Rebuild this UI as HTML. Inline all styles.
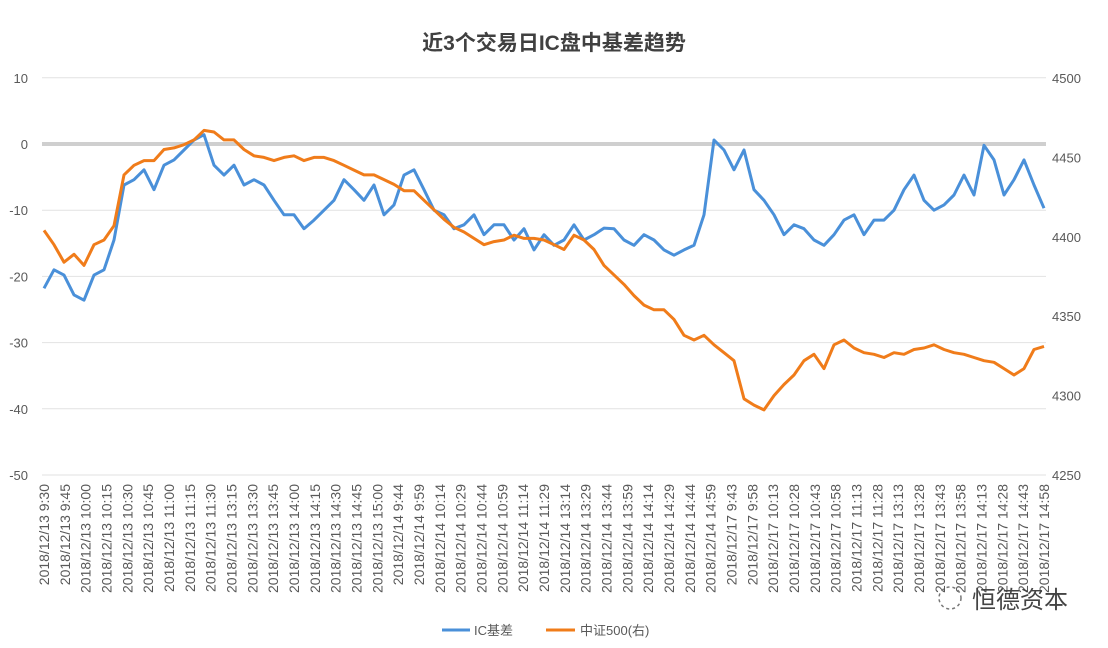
<!DOCTYPE html>
<html><head><meta charset="utf-8"><style>
body{margin:0;background:#fff;}
svg{display:block;font-family:"Liberation Sans","Noto Sans CJK SC",sans-serif;}
</style></head><body>
<svg id="chart" width="1108" height="648" viewBox="0 0 1108 648">
<text x="554" y="50" text-anchor="middle" font-size="21" font-weight="bold" fill="#404040">近3个交易日IC盘中基差趋势</text>
<g id="grid"></g><g id="yl"></g><g id="yr"></g><g id="xl"></g><g id="series"></g>
<g>
<line x1="442" y1="630" x2="470" y2="630" stroke="#4a90d9" stroke-width="3"/>
<text x="474" y="635" font-size="13" fill="#595959">IC基差</text>
<line x1="546" y1="630" x2="575" y2="630" stroke="#f07c1a" stroke-width="3"/>
<text x="580" y="635" font-size="13" fill="#595959">中证500(右)</text>
</g>
<circle cx="950" cy="598" r="11" fill="none" stroke="#777" stroke-width="1.5" stroke-dasharray="3 3"/>
<text x="972" y="608" font-size="24" fill="#444">恒德资本</text>
</svg>
<script>
const xLabels=["2018/12/13 9:30","2018/12/13 9:45","2018/12/13 10:00","2018/12/13 10:15","2018/12/13 10:30","2018/12/13 10:45","2018/12/13 11:00","2018/12/13 11:15","2018/12/13 11:30","2018/12/13 13:15","2018/12/13 13:30","2018/12/13 13:45","2018/12/13 14:00","2018/12/13 14:15","2018/12/13 14:30","2018/12/13 14:45","2018/12/13 15:00","2018/12/14 9:44","2018/12/14 9:59","2018/12/14 10:14","2018/12/14 10:29","2018/12/14 10:44","2018/12/14 10:59","2018/12/14 11:14","2018/12/14 11:29","2018/12/14 13:14","2018/12/14 13:29","2018/12/14 13:44","2018/12/14 13:59","2018/12/14 14:14","2018/12/14 14:29","2018/12/14 14:44","2018/12/14 14:59","2018/12/17 9:43","2018/12/17 9:58","2018/12/17 10:13","2018/12/17 10:28","2018/12/17 10:43","2018/12/17 10:58","2018/12/17 11:13","2018/12/17 11:28","2018/12/17 13:13","2018/12/17 13:28","2018/12/17 13:43","2018/12/17 13:58","2018/12/17 14:13","2018/12/17 14:28","2018/12/17 14:43","2018/12/17 14:58"];
const leftTicks=[10,0,-10,-20,-30,-40,-50];
const rightTicks=[4500,4450,4400,4350,4300,4250];
const icBasis=[-21.8,-19.0,-19.8,-22.8,-23.6,-19.8,-19.0,-14.5,-6.2,-5.4,-3.9,-6.9,-3.2,-2.4,-0.9,0.6,1.4,-3.2,-4.7,-3.2,-6.2,-5.4,-6.2,-8.5,-10.7,-10.7,-12.8,-11.5,-10.0,-8.5,-5.4,-6.9,-8.5,-6.2,-10.7,-9.2,-4.7,-3.9,-6.9,-10.0,-10.7,-12.8,-12.2,-10.7,-13.7,-12.2,-12.2,-14.5,-12.8,-16.0,-13.7,-15.3,-14.5,-12.2,-14.5,-13.7,-12.7,-12.8,-14.5,-15.3,-13.7,-14.5,-16.0,-16.8,-16.0,-15.3,-10.7,0.6,-0.9,-3.9,-0.9,-6.9,-8.5,-10.7,-13.7,-12.2,-12.8,-14.5,-15.3,-13.7,-11.5,-10.7,-13.7,-11.5,-11.5,-10.0,-6.9,-4.7,-8.5,-10.0,-9.2,-7.7,-4.7,-7.7,-0.2,-2.4,-7.7,-5.4,-2.4,-6.2,-9.7];
const csi500=[4404,4395,4384,4389,4382,4395,4398,4407,4439,4445,4448,4448,4455,4456,4458,4461,4467,4466,4461,4461,4455,4451,4450,4448,4450,4451,4448,4450,4450,4448,4445,4442,4439,4439,4436,4433,4429,4429,4423,4417,4411,4406,4403,4399,4395,4397,4398,4401,4399,4399,4398,4395,4392,4401,4398,4392,4382,4376,4370,4363,4357,4354,4354,4348,4338,4335,4338,4332,4327,4322,4298,4294,4291,4300,4307,4313,4322,4326,4317,4332,4335,4330,4327,4326,4324,4327,4326,4329,4330,4332,4329,4327,4326,4324,4322,4321,4317,4313,4317,4329,4331];
const NS='http://www.w3.org/2000/svg';
const X0=44,X1=1044;
const yL=v=>144-(v*6.62);
const yR=v=>78+(4500-v)*(397/250);
const xIdx=(i,n)=>X0+(X1-X0)*i/(n-1);
function mk(tag,attrs,parent){const e=document.createElementNS(NS,tag);for(const k in attrs)e.setAttribute(k,attrs[k]);parent.appendChild(e);return e;}
const g=document.getElementById('grid'),gl=document.getElementById('yl'),gr=document.getElementById('yr'),gx=document.getElementById('xl'),gs=document.getElementById('series');
leftTicks.forEach(v=>{
  const y=yL(v);
  const l=mk('line',{x1:42,x2:1046,y1:y,y2:y,stroke:v===0?'#cfcfcf':'#e2e2e2','stroke-width':v===0?4:1},g);
  
  
  const t=mk('text',{x:28,y:y+5,'text-anchor':'end','font-size':13,fill:'#595959'},gl);
  t.textContent=v;
  
  
});
rightTicks.forEach(v=>{
  const t=mk('text',{x:1052,y:yR(v)+5,'font-size':13,fill:'#595959'},gr);
  t.textContent=v;
  
  
});
xLabels.forEach((s,i)=>{
  const x=xIdx(i,xLabels.length);
  const t=mk('text',{x:0,y:0,transform:`translate(${x+5},484) rotate(-90)`,'text-anchor':'end','font-size':14,fill:'#595959'},gx);
  t.textContent=s;
  
  
});
function line(arr,fy,color,name){
  const d=arr.map((v,i)=>(i?'L':'M')+xIdx(i,arr.length).toFixed(1)+','+fy(v).toFixed(1)).join('');
  const p=mk('path',{d:d,fill:'none',stroke:color,'stroke-width':3,'stroke-linejoin':'round'},gs);
  
  
}
line(icBasis,yL,'#4a90d9','ic-basis-line');
line(csi500,yR,'#f07c1a','csi500-line');
</script>
</body></html>
